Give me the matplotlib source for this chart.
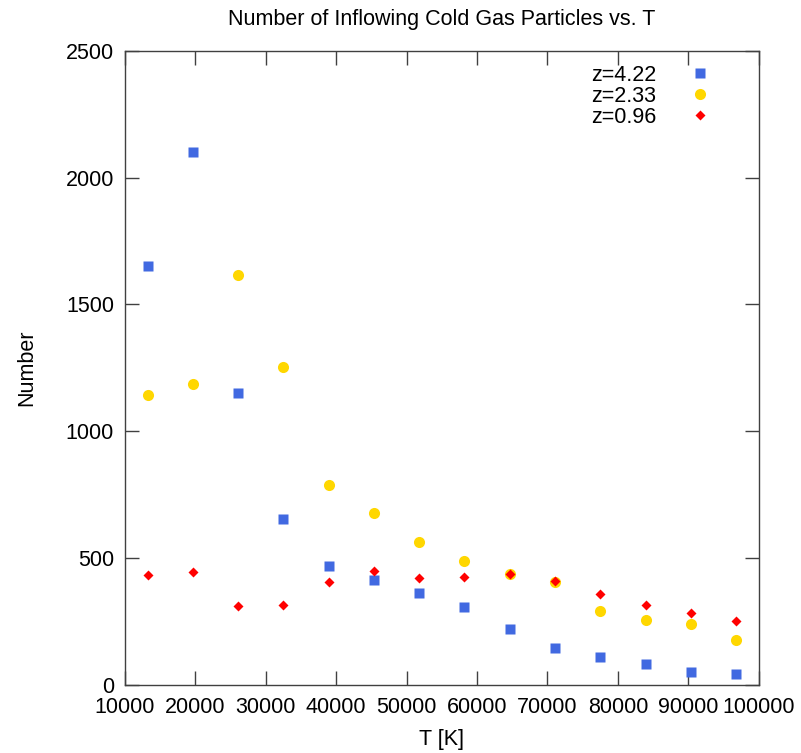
import matplotlib
matplotlib.use("Agg")
import matplotlib.pyplot as plt
from matplotlib.ticker import MultipleLocator

# bin centres in T [K]
temps = [13214, 19643, 26071, 32500, 38929, 45357, 51786,
         58214, 64643, 71071, 77500, 83929, 90357, 96786]

n_z422 = [1650, 2103, 1152, 653, 466, 413, 361, 305, 220, 145, 108, 81, 50, 42]
n_z233 = [1141, 1187, 1618, 1253, 788, 678, 564, 489, 437, 405, 291, 255, 241, 176]
n_z096 = [432, 445, 310, 314, 404, 449, 420, 426, 437, 408, 359, 313, 282, 250]

labels = ["z=4.22", "z=2.33", "z=0.96"]

plt.rcParams['font.family'] = ['Liberation Sans', 'DejaVu Sans']
plt.rcParams['font.size'] = 15.5

fig = plt.figure(figsize=(8.01, 7.53), dpi=100)
ax = fig.add_axes([125/801, 1 - 684.6/753, (758.7-125)/801, (684.6-51)/753])

ax.plot(temps, n_z422, 's', color='#4169E1', markersize=7.3, mec='none', label=labels[0])
ax.plot(temps, n_z233, 'o', color='#FFD700', markersize=8, mec='none', label=labels[1])
ax.plot(temps, n_z096, 'D', color='#FF0000', markersize=5.6, mec='none', label=labels[2])

ax.set_xlim(10000, 100000)
ax.set_ylim(0, 2500)
ax.xaxis.set_major_locator(MultipleLocator(10000))
ax.yaxis.set_major_locator(MultipleLocator(500))
ax.tick_params(direction='in', length=10, width=1, top=True, right=True,
               color='#404040', labelsize=15.5)
ax.tick_params(axis='x', pad=9)
ax.tick_params(axis='y', pad=8)
for s in ax.spines.values():
    s.set_color('#404040')
    s.set_linewidth(1)

ax.set_xlabel("T [K]", fontsize=15.5, labelpad=8)
ax.set_ylabel("Number", fontsize=15.5, labelpad=20)
ax.set_title("Number of Inflowing Cold Gas Particles vs. T",
             family=['Liberation Sans Narrow', 'Liberation Sans'], fontsize=15.5, pad=19)

ax.legend(loc='upper right', bbox_to_anchor=(0.955, 1.009), frameon=False, markerfirst=False,
          handletextpad=1.55, labelspacing=0.0, handlelength=1.0, fontsize=15.5)

fig.savefig("out.png", dpi=100)
